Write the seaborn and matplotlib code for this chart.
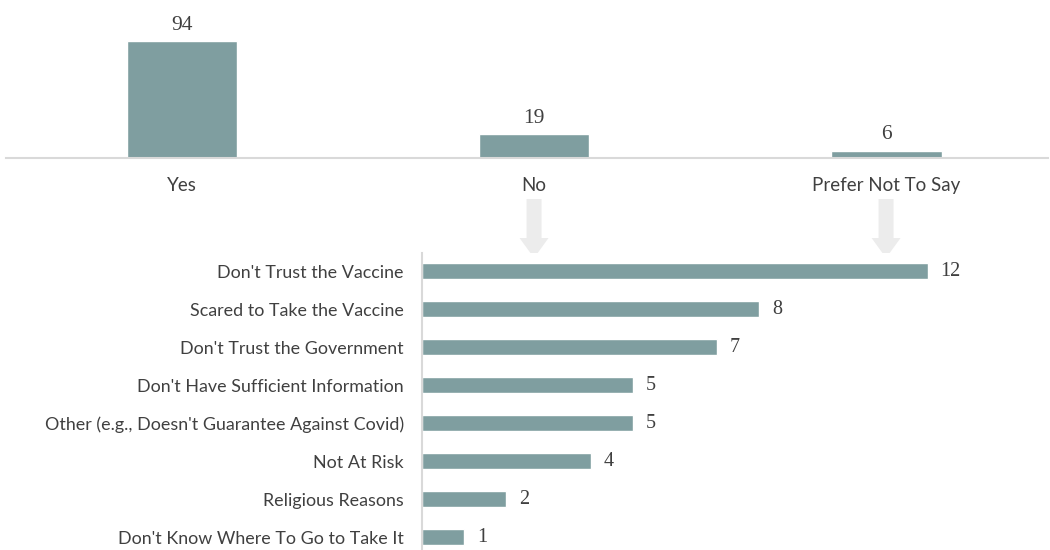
import matplotlib
matplotlib.use("Agg")
import matplotlib.pyplot as plt
from matplotlib.patches import Polygon
import matplotlib.transforms as mtransforms
import seaborn as sns
import pandas as pd

# Survey answers: will you take the vaccine?
answers = ["Yes", "No", "Prefer Not To Say"]
answer_counts = [94, 19, 6]

# Reasons given by those who answered No / Prefer Not To Say
reasons = [
    "Don't Trust the Vaccine",
    "Scared to Take the Vaccine",
    "Don't Trust the Government",
    "Don't Have Sufficient Information",
    "Other (e.g., Doesn't Guarantee Against Covid)",
    "Not At Risk",
    "Religious Reasons",
    "Don't Know Where To Go to Take It",
]
reason_counts = [12, 8, 7, 5, 5, 4, 2, 1]

BAR = "#7f9ea0"
TEXT = "#404040"
RULE = "#d9d9d9"
ARROW = "#ececec"

sns.set_theme(style="white")
plt.rcParams["font.family"] = ["Lato", "DejaVu Sans"]

W, H = 1050, 550
fig = plt.figure(figsize=(W / 100, H / 100), dpi=100)

# ---- top panel: answers ----
ax_top = fig.add_axes([6 / W, (H - 158) / H, 1042 / W, 158 / H])
top_df = pd.DataFrame({"answer": answers, "count": answer_counts})
sns.barplot(data=top_df, x="answer", y="count", color=BAR, width=0.315,
            saturation=1, ax=ax_top)
ax_top.set_xlim(-0.5, 2.46)
ax_top.set_ylim(0, 126.9)
ax_top.set_xlabel("")
ax_top.set_ylabel("")
ax_top.set_yticks([])
for s in ["top", "left", "right"]:
    ax_top.spines[s].set_visible(False)
ax_top.spines["bottom"].set_color(RULE)
ax_top.spines["bottom"].set_linewidth(1.5)
ax_top.tick_params(axis="x", length=0, pad=14, labelsize=13.5, labelcolor=TEXT)
for i, v in enumerate(answer_counts):
    ax_top.annotate(str(v), (i, v), xytext=(0, 8), textcoords="offset points",
                    ha="center", va="baseline", family="Liberation Serif",
                    fontsize=15.5, color=TEXT)

# ---- arrows from "No" and "Prefer Not To Say" down to the reasons ----
blend = mtransforms.blended_transform_factory(ax_top.transData, fig.transFigure)
shaft = 15 / 352 / 2
head = 29 / 352 / 2
y_top, y_neck, y_tip = 1 - 199 / H, 1 - 238 / H, 1 - 258 / H
for xc in [1, 2]:
    pts = [
        (xc - shaft, y_top), (xc + shaft, y_top), (xc + shaft, y_neck),
        (xc + head, y_neck), (xc, y_tip), (xc - head, y_neck),
        (xc - shaft, y_neck),
    ]
    fig.add_artist(Polygon(pts, closed=True, transform=blend,
                           facecolor=ARROW, edgecolor="none", zorder=0))

# ---- bottom panel: reasons ----
ax_bot = fig.add_axes([422 / W, 0, (W - 422) / W, 297 / H])
bot_df = pd.DataFrame({"reason": reasons, "count": reason_counts})
sns.barplot(data=bot_df, y="reason", x="count", color=BAR, width=0.4,
            saturation=1, orient="h", ax=ax_bot)
ax_bot.set_xlim(0, 14.9)
ax_bot.set_ylim(7.342, -0.474)
ax_bot.set_xlabel("")
ax_bot.set_ylabel("")
ax_bot.set_xticks([])
for s in ["top", "bottom", "right"]:
    ax_bot.spines[s].set_visible(False)
ax_bot.spines["left"].set_color(RULE)
ax_bot.spines["left"].set_linewidth(1.5)
ax_bot.tick_params(axis="y", length=0, pad=13, labelsize=12.9, labelcolor=TEXT)
for i, v in enumerate(reason_counts):
    ax_bot.text(v + 0.3, i, str(v), ha="left", va="center",
                family="Liberation Serif", fontsize=14.5, color=TEXT)

fig.savefig("out.png", dpi=100)
